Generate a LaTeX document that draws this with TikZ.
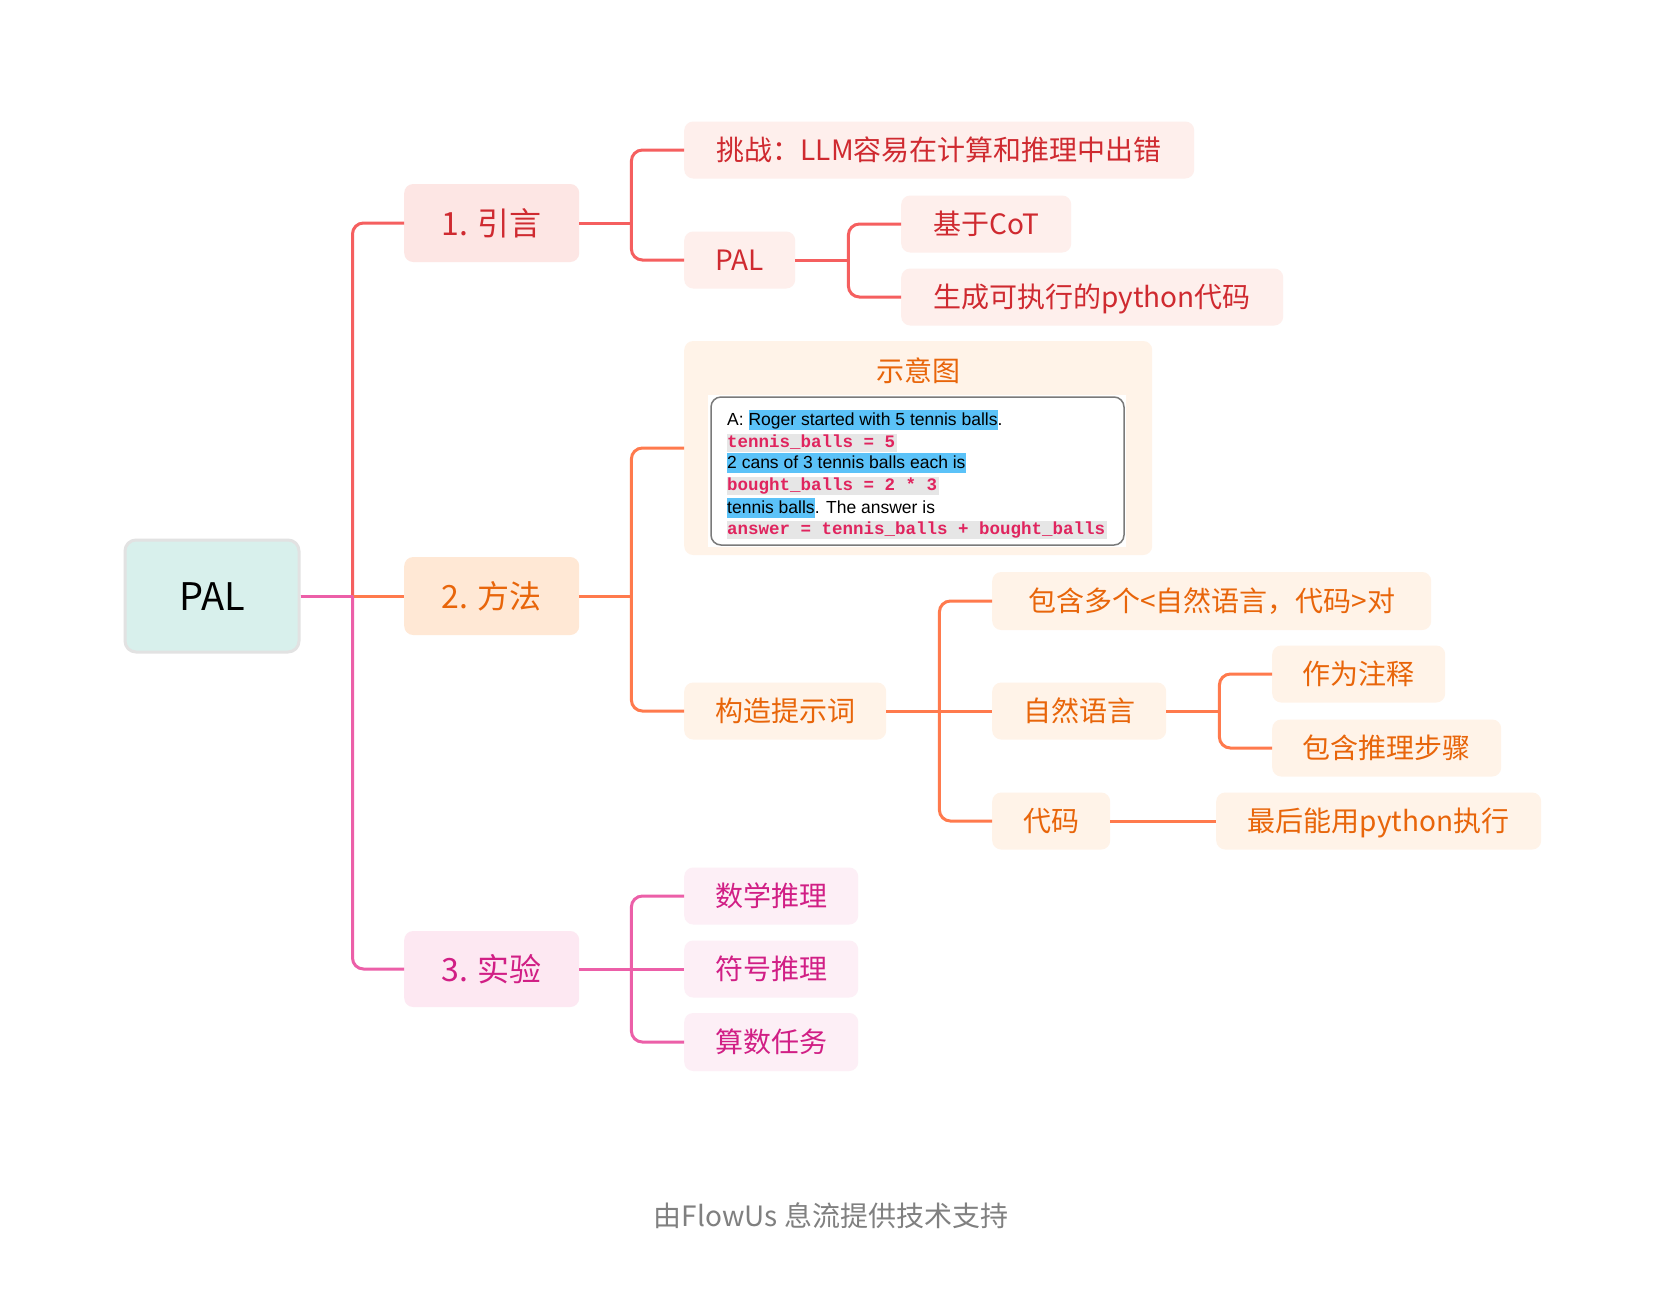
\documentclass[tikz,border=0pt]{standalone}
\usepackage{fontspec}
\setmainfont{Noto Sans CJK SC}
\newfontfamily\arialf{Liberation Sans}
\newfontfamily\courf{Liberation Mono}
\definecolor{redln}{HTML}{F55F5F}
\definecolor{redtx}{HTML}{CF2A30}
\definecolor{redfa}{HTML}{FDE6E4}
\definecolor{redfb}{HTML}{FEEFEC}
\definecolor{orln}{HTML}{FF7A4D}
\definecolor{ortx}{HTML}{E8650A}
\definecolor{orfa}{HTML}{FFE8D5}
\definecolor{orfb}{HTML}{FFF3E8}
\definecolor{pkln}{HTML}{EC5FA8}
\definecolor{pktx}{HTML}{D11F85}
\definecolor{pkfa}{HTML}{FDE8F2}
\definecolor{pkfb}{HTML}{FDEFF6}
\definecolor{rootf}{HTML}{D8F0EC}
\definecolor{rootb}{HTML}{E2E2E2}
\definecolor{hlblue}{HTML}{5BC2F8}
\definecolor{codegray}{HTML}{E6E6E6}
\definecolor{codetx}{HTML}{E0245E}
\definecolor{frameg}{HTML}{7A7A7A}
\definecolor{foot}{HTML}{808080}
\newcommand\hlb[1]{{\setlength\fboxsep{0pt}\colorbox{hlblue}{\rule[-5bp]{0pt}{20bp}#1}}}
\newcommand\cod[1]{{\setlength\fboxsep{0pt}\colorbox{codegray}{\rule[-5bp]{0pt}{18.5bp}\courf\bfseries\color{codetx}#1\hspace{1.5bp}}}}
\newcommand\plainstrut{\rule[-5bp]{0pt}{20bp}}
\tikzset{
  box/.style={rounded corners=9bp, inner sep=0pt, align=center, anchor=west},
  lva/.style={box, font=\fontsize{32bp}{38bp}\selectfont, text height=24.8bp, text depth=0pt},
  lvb/.style={box, font=\fontsize{28bp}{34bp}\selectfont, text height=21.8bp, text depth=0pt, minimum height=57bp},
  rA/.style={lva, fill=redfa, text=redtx},
  rB/.style={lvb, fill=redfb, text=redtx},
  oA/.style={lva, fill=orfa, text=ortx},
  oB/.style={lvb, fill=orfb, text=ortx},
  pA/.style={lva, fill=pkfa, text=pktx},
  pB/.style={lvb, fill=pkfb, text=pktx},
  conn/.style={line width=3bp},
  rc/.style={conn, draw=redln},
  oc/.style={conn, draw=orln},
  pc/.style={conn, draw=pkln},
  rcorner/.style={rounded corners=11bp},
  codeline/.style={anchor=west, inner sep=0pt, font=\arialf\fontsize{17.5bp}{21bp}\selectfont},
}
\begin{document}
\begin{tikzpicture}[x=1bp,y=-1bp]
\useasboundingbox[fill=white] (0,0) rectangle (1662,1297);
% root
\node[box, fill=rootf, draw=rootb, line width=3bp, rounded corners=11bp, minimum width=174bp, minimum height=112bp, font=\fontsize{38bp}{44bp}\selectfont, text height=28.5bp, text depth=0pt] (root) at (123.5,596) {PAL};
% level 1
\node[rA, minimum width=175bp, minimum height=78bp] (intro) at (404,223) {1. 引言};
\node[oA, minimum width=175bp, minimum height=78bp] (method) at (404,596) {2. 方法};
\node[pA, minimum width=175bp, minimum height=76bp] (exp) at (404,969) {3. 实验};
% intro children
\node[rB, minimum width=510bp] (chal) at (684,150) {挑战：LLM容易在计算和推理中出错};
\node[rB, minimum width=111bp] (palsub) at (684,260) {PAL};
\node[rB, minimum width=170bp] (cot) at (901,224) {基于CoT};
\node[rB, minimum width=382bp] (gen) at (901,297) {生成可执行的python代码};
% method children
\node[box, fill=orfb, minimum width=468bp, minimum height=214bp] (fig) at (684,448) {};
\node[inner sep=0pt, text=ortx, font=\fontsize{28bp}{34bp}\selectfont, text height=21.8bp, text depth=0pt] (figtitle) at (918,371) {示意图};
\fill[white] (708,395) rectangle (1126,547);
\draw[frameg, line width=1.5bp, rounded corners=10bp] (711,397) rectangle (1124,545);
\node[codeline] (c1) at (727,420) {\plainstrut A: \hlb{Roger started with 5 tennis balls}.};
\node[codeline] (c2) at (727,443) {\cod{tennis\_balls = 5}};
\node[codeline] (c3) at (727,463) {\hlb{2 cans of 3 tennis balls each is}};
\node[codeline] (c4) at (727,486) {\cod{bought\_balls = 2 * 3}};
\node[codeline] (c5) at (727,508) {\hlb{tennis balls}. The answer is};
\node[codeline] (c6) at (727,530) {\cod{answer = tennis\_balls + bought\_balls}};
\node[oB, minimum width=202bp] (prompt) at (684,711) {构造提示词};
\node[oB, minimum width=439bp, minimum height=58bp] (multi) at (992,601) {包含多个<自然语言，代码>对};
\node[oB, minimum width=174bp] (nl) at (992,711) {自然语言};
\node[oB, minimum width=173bp] (comment) at (1272,674) {作为注释};
\node[oB, minimum width=229bp] (steps) at (1272,748) {包含推理步骤};
\node[oB, minimum width=118bp] (code) at (992,821) {代码};
\node[oB, minimum width=325bp] (exec) at (1216,821) {最后能用python执行};
% experiment children
\node[pB, minimum width=174bp] (math) at (684,896) {数学推理};
\node[pB, minimum width=174bp] (sym) at (684,969) {符号推理};
\node[pB, minimum width=174bp, minimum height=58bp] (arith) at (684,1042) {算数任务};
% footer
\node[text=foot, font=\fontsize{28bp}{34bp}\selectfont, inner sep=0pt] (footer) at (831,1216) {由FlowUs 息流提供技术支持};
% junctions
\path (root.east) ++(52,0) coordinate (jR);
\path (intro.east) ++(52,0) coordinate (jI);
\path (palsub.east) ++(53,0) coordinate (jP);
\path (method.east) ++(52,0) coordinate (jM);
\path (prompt.east) ++(53,0) coordinate (jC);
\path (nl.east) ++(53,0) coordinate (jN);
\path (exp.east) ++(52,0) coordinate (jE);
% root connectors
\draw[rc] (root.east) -- (jR);
\draw[rc, rcorner] (jR) |- (intro.west);
\draw[oc] (jR) -- (method.west);
\draw[pc] (root.east) -- (jR);
\draw[pc, rcorner] (jR) |- (exp.west);
% intro connectors
\draw[rc] (intro.east) -- (jI);
\draw[rc, rcorner] (jI) |- (chal.west);
\draw[rc, rcorner] (jI) |- (palsub.west);
\draw[rc] (palsub.east) -- (jP);
\draw[rc, rcorner] (jP) |- (cot.west);
\draw[rc, rcorner] (jP) |- (gen.west);
% method connectors
\draw[oc] (method.east) -- (jM);
\draw[oc, rcorner] (jM) |- (fig.west);
\draw[oc, rcorner] (jM) |- (prompt.west);
\draw[oc] (prompt.east) -- (jC);
\draw[oc, rcorner] (jC) |- (multi.west);
\draw[oc] (jC) -- (nl.west);
\draw[oc, rcorner] (jC) |- (code.west);
\draw[oc] (nl.east) -- (jN);
\draw[oc, rcorner] (jN) |- (comment.west);
\draw[oc, rcorner] (jN) |- (steps.west);
\draw[oc] (code.east) -- (exec.west);
% experiment connectors
\draw[pc] (exp.east) -- (jE);
\draw[pc, rcorner] (jE) |- (math.west);
\draw[pc] (jE) -- (sym.west);
\draw[pc, rcorner] (jE) |- (arith.west);
\end{tikzpicture}
\end{document}
